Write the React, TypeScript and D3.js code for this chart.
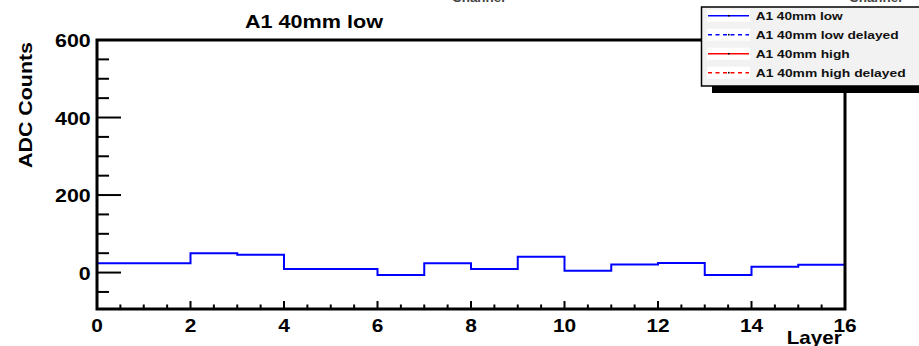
import React from "react";
import * as d3 from "d3";

const title = "A1 40mm low";
const xLabel = "Layer";
const yLabel = "ADC Counts";
const binEdgesStart = [0, 1, 2, 3, 4, 5, 6, 7, 8, 9, 10, 11, 12, 13, 14, 15];
const lowValues = [24, 24, 50, 46, 9, 9, -6, 24, 9.5, 40.6, 4.4, 20.7, 25, -6, 14.7, 20];
const xTickValues = [0, 2, 4, 6, 8, 10, 12, 14, 16];
const yTickValues = [0, 200, 400, 600];
const legendNames = ["A1 40mm low", "A1 40mm low delayed", "A1 40mm high", "A1 40mm high delayed"];
const legendColors = ["#0000ff", "#0000ff", "#ff0000", "#ff0000"];
const legendDashed = [false, true, false, true];
const legendWidths = [87, 143, 94, 150];

const W = 919;
const H = 346;
const FONT = "'Liberation Sans', Arial, Helvetica, sans-serif";

export default function App() {
  const left = 97, right = 845, top = 40, bottom = 309;
  const x = d3.scaleLinear().domain([0, 16]).range([left, right]);
  const y = d3.scaleLinear().domain([-94, 600]).range([bottom, top]);

  const pts: [number, number][] = binEdgesStart.map((e, i) => [e, lowValues[i]]);
  pts.push([16, lowValues[lowValues.length - 1]]);
  const line = d3
    .line<[number, number]>()
    .x((d) => x(d[0]))
    .y((d) => y(d[1]))
    .curve(d3.curveStepAfter);

  const xMinor = d3.range(0, 16.001, 0.5).filter((v) => v % 2 !== 0);
  const yMinor = d3.range(-50, 600, 50).filter((v) => v % 200 !== 0);

  const legY0 = 15.7;
  const legStep = 19;

  return (
    <svg
      width={W}
      height={H}
      style={{ position: "absolute", left: 0, top: 0, background: "#fff" }}
      fontFamily={FONT}
    >
      <rect x={0} y={0} width={W} height={H} fill="#fff" />
      {/* clipped texts from neighbouring pads */}
      <text x={452} y={1.5} fontSize={13} fontWeight="bold" fill="#444" textLength={53} lengthAdjust="spacingAndGlyphs">Channel</text>
      <text x={849} y={1.5} fontSize={13} fontWeight="bold" fill="#444" textLength={53} lengthAdjust="spacingAndGlyphs">Channel</text>

      {/* title */}
      <text x={245} y={28.3} fontSize={19} fontWeight="bold" textLength={138} lengthAdjust="spacingAndGlyphs">{title}</text>

      {/* histogram */}
      <path d={line(pts) || ""} fill="none" stroke="#0000ff" strokeWidth={2} />

      {/* y ticks */}
      {yTickValues.map((v) => (
        <line key={"yt" + v} x1={left} x2={left + 24} y1={y(v)} y2={y(v)} stroke="#000" strokeWidth={2} />
      ))}
      {yMinor.map((v) => (
        <line key={"ym" + v} x1={left} x2={left + 12} y1={y(v)} y2={y(v)} stroke="#000" strokeWidth={2} />
      ))}
      {yTickValues.map((v) => (
        <text key={"yl" + v} x={90.7} y={y(v) + 7} fontSize={19} fontWeight="bold" textAnchor="end"
          textLength={String(v).length * 11.9} lengthAdjust="spacingAndGlyphs">{v}</text>
      ))}

      {/* x ticks */}
      {xTickValues.map((v) => (
        <line key={"xt" + v} x1={x(v)} x2={x(v)} y1={bottom} y2={bottom - 8} stroke="#000" strokeWidth={2} />
      ))}
      {xMinor.map((v) => (
        <line key={"xm" + v} x1={x(v)} x2={x(v)} y1={bottom} y2={bottom - 4.5} stroke="#000" strokeWidth={2} />
      ))}
      {xTickValues.map((v) => (
        <text key={"xl" + v} x={x(v)} y={331.5} fontSize={19} fontWeight="bold" textAnchor="middle"
          textLength={String(v).length * 11.6} lengthAdjust="spacingAndGlyphs">{v}</text>
      ))}

      {/* frame */}
      <rect x={left} y={top} width={right - left} height={bottom - top} fill="none" stroke="#000" strokeWidth={3} />

      {/* axis labels */}
      <text x={786.7} y={344} fontSize={19} fontWeight="bold" textLength={55} lengthAdjust="spacingAndGlyphs">{xLabel}</text>
      <text transform="translate(31.5,105) rotate(-90)" fontSize={19} fontWeight="bold" textAnchor="middle"
        textLength={126} lengthAdjust="spacingAndGlyphs">{yLabel}</text>

      {/* legend */}
      <rect x={712} y={86} width={220} height={7} fill="#000" />
      <rect x={701.5} y={7} width={230} height={79} fill="#f2f2f2" stroke="#000" strokeWidth={1.5} />
      {legendNames.map((name, i) => {
        const cy = legY0 + i * legStep;
        return (
          <g key={name}>
            <rect x={707} y={cy - 6} width={43} height={12} fill="#fff" />
            <line x1={708} x2={749} y1={cy} y2={cy} stroke={legendColors[i]} strokeWidth={1.6}
              strokeDasharray={legendDashed[i] ? "4,3.5" : undefined} />
            <rect x={728} y={cy - 0.8} width={1.6} height={1.6} fill="#000" />
            <text x={755.7} y={cy + 4} fontSize={11} fontWeight="bold" fill="#111"
              textLength={legendWidths[i]} lengthAdjust="spacingAndGlyphs">{name}</text>
          </g>
        );
      })}
    </svg>
  );
}
